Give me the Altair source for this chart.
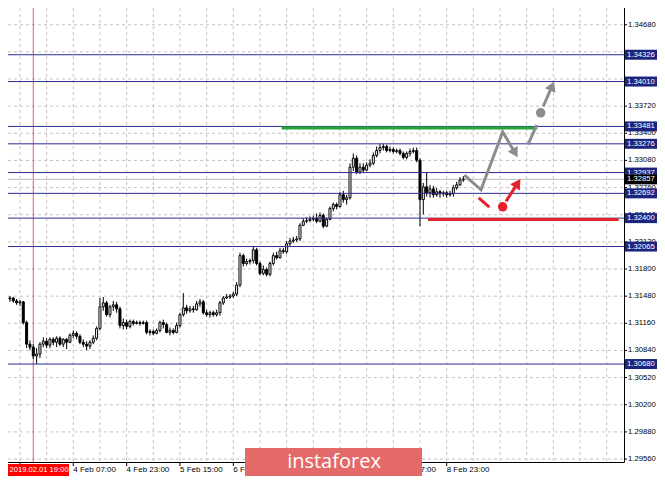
import altair as alt
import pandas as pd

# ---------------- data (H1 candles, bar index 2..139) ----------------
first_bar = 2
opens = [
    1.31471, 1.31447, 1.31459, 1.31424, 1.31401, 1.31413, 1.31169, 1.30914, 1.30879, 1.30775,
    1.30798, 1.30914, 1.30949, 1.30902, 1.30972, 1.30937, 1.30984, 1.30914, 1.30972, 1.30937,
    1.31018, 1.31042, 1.31007, 1.30937, 1.30914, 1.30891, 1.30937, 1.30984, 1.31100, 1.31355,
    1.31401, 1.31262, 1.31355, 1.31378, 1.31331, 1.31134, 1.31169, 1.31123, 1.31181, 1.31158,
    1.31169, 1.31158, 1.31169, 1.31053, 1.31065, 1.31042, 1.31076, 1.31169, 1.31146, 1.31053,
    1.31076, 1.31053, 1.31134, 1.31262, 1.31343, 1.31308, 1.31331, 1.31320, 1.31389, 1.31413,
    1.31285, 1.31262, 1.31285, 1.31262, 1.31285, 1.31401, 1.31459, 1.31471, 1.31482, 1.31505,
    1.31610, 1.31958, 1.31865, 1.31888, 1.31900, 1.32027, 1.31865, 1.31749, 1.31795, 1.31737,
    1.31865, 1.31958, 1.31934, 1.32016, 1.32004, 1.32097, 1.32131, 1.32143, 1.32155, 1.32316,
    1.32363, 1.32374, 1.32386, 1.32398, 1.32363, 1.32432, 1.32305, 1.32386, 1.32514, 1.32560,
    1.32537, 1.32676, 1.32618, 1.32641, 1.33000, 1.33105, 1.32942, 1.33000, 1.32966, 1.33024,
    1.33047, 1.33139, 1.33197, 1.33232, 1.33244, 1.33197, 1.33209, 1.33186, 1.33197, 1.33163,
    1.33116, 1.33163, 1.33186, 1.33197, 1.33081, 1.32618, 1.32769, 1.32699, 1.32745, 1.32676,
    1.32711, 1.32687, 1.32699, 1.32676, 1.32687, 1.32757, 1.32792, 1.32850,
]
highs = [
    1.31494, 1.31482, 1.31471, 1.31447, 1.31436, 1.31424, 1.31192, 1.30960, 1.30914, 1.30868,
    1.30937, 1.30995, 1.30984, 1.30995, 1.30995, 1.31007, 1.31007, 1.30984, 1.30984, 1.31042,
    1.31076, 1.31065, 1.31030, 1.30972, 1.30949, 1.30960, 1.31018, 1.31123, 1.31459, 1.31471,
    1.31424, 1.31378, 1.31424, 1.31413, 1.31355, 1.31216, 1.31204, 1.31204, 1.31204, 1.31192,
    1.31192, 1.31192, 1.31192, 1.31088, 1.31088, 1.31100, 1.31192, 1.31204, 1.31169, 1.31111,
    1.31100, 1.31169, 1.31285, 1.31517, 1.31378, 1.31366, 1.31366, 1.31424, 1.31447, 1.31436,
    1.31320, 1.31308, 1.31308, 1.31320, 1.31424, 1.31482, 1.31505, 1.31505, 1.31529, 1.31645,
    1.31992, 1.31981, 1.31923, 1.31923, 1.32062, 1.32050, 1.31888, 1.31842, 1.31818, 1.31888,
    1.31992, 1.32004, 1.32050, 1.32050, 1.32131, 1.32166, 1.32178, 1.32189, 1.32340, 1.32398,
    1.32409, 1.32421, 1.32432, 1.32456, 1.32467, 1.32456, 1.32409, 1.32537, 1.32583, 1.32583,
    1.32711, 1.32722, 1.32676, 1.33047, 1.33163, 1.33139, 1.33047, 1.33047, 1.33058, 1.33093,
    1.33174, 1.33244, 1.33278, 1.33278, 1.33267, 1.33244, 1.33232, 1.33220, 1.33220, 1.33186,
    1.33186, 1.33220, 1.33232, 1.33232, 1.33105, 1.32815, 1.32942, 1.32792, 1.32780, 1.32757,
    1.32734, 1.32722, 1.32722, 1.32722, 1.32792, 1.32827, 1.32884, 1.32896,
]
lows = [
    1.31424, 1.31413, 1.31401, 1.31378, 1.31366, 1.31146, 1.30868, 1.30844, 1.30740, 1.30682,
    1.30752, 1.30879, 1.30868, 1.30868, 1.30902, 1.30879, 1.30891, 1.30879, 1.30856, 1.30926,
    1.30984, 1.30972, 1.30914, 1.30879, 1.30844, 1.30856, 1.30914, 1.30960, 1.31076, 1.31308,
    1.31239, 1.31227, 1.31308, 1.31285, 1.31100, 1.31088, 1.31088, 1.31100, 1.31134, 1.31146,
    1.31134, 1.31146, 1.31030, 1.31018, 1.31018, 1.31030, 1.31053, 1.31100, 1.31042, 1.31018,
    1.31030, 1.31042, 1.31111, 1.31239, 1.31273, 1.31285, 1.31285, 1.31308, 1.31355, 1.31262,
    1.31239, 1.31227, 1.31239, 1.31239, 1.31250, 1.31378, 1.31447, 1.31447, 1.31459, 1.31482,
    1.31587, 1.31830, 1.31842, 1.31853, 1.31865, 1.31842, 1.31726, 1.31726, 1.31714, 1.31714,
    1.31842, 1.31911, 1.31923, 1.31981, 1.31981, 1.32074, 1.32108, 1.32120, 1.32131, 1.32305,
    1.32340, 1.32351, 1.32363, 1.32340, 1.32351, 1.32282, 1.32293, 1.32374, 1.32479, 1.32502,
    1.32525, 1.32583, 1.32560, 1.32618, 1.32954, 1.32919, 1.32919, 1.32942, 1.32954, 1.33000,
    1.33024, 1.33116, 1.33163, 1.33197, 1.33174, 1.33174, 1.33163, 1.33163, 1.33139, 1.33093,
    1.33093, 1.33128, 1.33163, 1.33058, 1.32305, 1.32444, 1.32653, 1.32641, 1.32641, 1.32653,
    1.32641, 1.32653, 1.32641, 1.32653, 1.32653, 1.32734, 1.32780, 1.32827,
]
closes = [
    1.31447, 1.31459, 1.31424, 1.31401, 1.31413, 1.31169, 1.30914, 1.30879, 1.30775, 1.30798,
    1.30914, 1.30949, 1.30902, 1.30972, 1.30937, 1.30984, 1.30914, 1.30972, 1.30937, 1.31018,
    1.31042, 1.31007, 1.30937, 1.30914, 1.30891, 1.30937, 1.30984, 1.31100, 1.31355, 1.31401,
    1.31262, 1.31355, 1.31378, 1.31331, 1.31134, 1.31169, 1.31123, 1.31181, 1.31158, 1.31169,
    1.31158, 1.31169, 1.31053, 1.31065, 1.31042, 1.31076, 1.31169, 1.31146, 1.31053, 1.31076,
    1.31053, 1.31134, 1.31262, 1.31343, 1.31308, 1.31331, 1.31320, 1.31389, 1.31413, 1.31285,
    1.31262, 1.31285, 1.31262, 1.31285, 1.31401, 1.31459, 1.31471, 1.31482, 1.31505, 1.31610,
    1.31958, 1.31865, 1.31888, 1.31900, 1.32027, 1.31865, 1.31749, 1.31795, 1.31737, 1.31865,
    1.31958, 1.31934, 1.32016, 1.32004, 1.32097, 1.32131, 1.32143, 1.32155, 1.32316, 1.32363,
    1.32374, 1.32386, 1.32398, 1.32363, 1.32432, 1.32305, 1.32386, 1.32514, 1.32560, 1.32537,
    1.32676, 1.32618, 1.32641, 1.33000, 1.33105, 1.32942, 1.33000, 1.32966, 1.33024, 1.33047,
    1.33139, 1.33197, 1.33232, 1.33244, 1.33197, 1.33209, 1.33186, 1.33197, 1.33163, 1.33116,
    1.33163, 1.33186, 1.33197, 1.33081, 1.32618, 1.32769, 1.32699, 1.32745, 1.32676, 1.32711,
    1.32687, 1.32699, 1.32676, 1.32687, 1.32757, 1.32792, 1.32850, 1.32861,
]
bars = list(range(first_bar, first_bar + len(closes)))

grid_bars = [6, 14, 22, 30, 38, 46, 54, 62, 70, 78, 86, 94, 102, 110, 118, 126,
             134, 142, 150, 158, 166, 174, 182]
price_ticks = [1.29560, 1.29880, 1.30200, 1.30520, 1.30840, 1.31160, 1.31480, 1.31800,
               1.32120, 1.32440, 1.32760, 1.33080, 1.33400, 1.33720, 1.34040, 1.34360, 1.34680]
# tick labels that are not hidden behind a level box
price_tick_labels = [1.29560, 1.29880, 1.30200, 1.30520, 1.30840, 1.31160, 1.31480, 1.31800,
                     1.32120, 1.32440, 1.32760, 1.33080, 1.33400, 1.33720, 1.34680]
level_prices = [1.34326, 1.34010, 1.33481, 1.33276, 1.32937, 1.32692, 1.32400, 1.32065, 1.30680]
bid_price = 1.32857

date_tick_bars = [6, 22, 38, 54, 70, 86, 102, 118, 134]
date_bars = [22, 38, 54, 70, 118, 134]
date_labels = ["4 Feb 07:00", "4 Feb 23:00", "5 Feb 15:00", "6 Feb 07:00",
               "8 Feb 07:00", "8 Feb 23:00"]
marker_bar = 10
marker_label = "2019.02.01 19:00"

green_bars = [84.5, 161.2]
green_price = 1.33462
red_bars = [128.4, 185.6]
red_price = 1.32385

# gray scenario path
gray_seg = ["a", "a", "a", "a", "b", "b", "c", "c"]
gray_bars = [139.3, 144.3, 150.8, 154.54, 158.4, 161.0, 163.0, 165.64]
gray_prices = [1.32908, 1.32734, 1.33417, 1.33167, 1.33267, 1.33498, 1.33719, 1.33958]
# red scenario path
red_seg = ["d", "d", "e", "e"]
red_path_bars = [143.6, 146.8, 151.8, 155.31]
red_path_prices = [1.32638, 1.32529, 1.32598, 1.32812]

dot_bars = [162.2, 150.8]
dot_prices = [1.33641, 1.32533]
dot_colors = ["#8c8c8c", "#e8202a"]

head_bars = [154.54, 165.64, 155.31]
head_prices = [1.33167, 1.33958, 1.32812]
head_angles = [150, 23, 33]
head_colors = ["#8c8c8c", "#8c8c8c", "#e8202a"]

# ---------------- layout ----------------
W, H = 616, 454
RIGHT, BOTTOM = 33, 14
xs = alt.Scale(domain=[2.418, 187.194], nice=False, zero=False, padding=0)
ys = alt.Scale(domain=[1.295252, 1.348770], nice=False, zero=False, padding=0)
FONT = "Liberation Sans"
GRID = "#c4c4c4"
LBL = 7.7


def X(field):
    return alt.X(field, type="quantitative", scale=xs, axis=None)


def Y(field):
    return alt.Y(field, type="quantitative", scale=ys, axis=None)


candles = pd.DataFrame({"bar": bars, "open": opens, "high": highs, "low": lows, "close": closes})
one = pd.DataFrame({"a": [0]})
ticks_df = pd.DataFrame({"price": price_ticks})
tick_lbl_df = pd.DataFrame({"price": price_tick_labels,
                            "label": [f"{p:.5f}" for p in price_tick_labels]})

# grid
vgrid = alt.Chart(pd.DataFrame({"bar": grid_bars})).mark_rule(
    color=GRID, strokeWidth=1, strokeDash=[3, 3]).encode(x=X("bar"), y=alt.value(0), y2=alt.value(H))
hgrid = alt.Chart(ticks_df).mark_rule(
    color=GRID, strokeWidth=1, strokeDash=[3, 3]).encode(y=Y("price"), x=alt.value(0), x2=alt.value(W))

# axes (drawn by hand)
right_axis = alt.Chart(one).mark_rule(color="black", strokeWidth=1).encode(
    x=alt.value(W + 0.5), y=alt.value(0), y2=alt.value(H + 0.5))
bottom_axis = alt.Chart(one).mark_rule(color="black", strokeWidth=1).encode(
    y=alt.value(H + 0.5), x=alt.value(0), x2=alt.value(W + 0.5))
ytick_marks = alt.Chart(ticks_df).mark_rule(color="black", strokeWidth=1).encode(
    y=Y("price"), x=alt.value(W), x2=alt.value(W + 3))
ytick_text = alt.Chart(tick_lbl_df).mark_text(
    align="left", baseline="middle", font=FONT, fontSize=LBL, color="black").encode(
    y=Y("price"), x=alt.value(W + 4), text="label:N")

wicks = alt.Chart(candles).mark_rule(color="black", strokeWidth=1, clip=True).encode(
    x=X("bar"), y=Y("low"), y2="high:Q")
bodies = alt.Chart(candles).transform_calculate(
    fillc="datum.close >= datum.open ? 'white' : 'black'"
).mark_bar(size=2, stroke="black", strokeWidth=1, clip=True).encode(
    x=X("bar"), y=Y("open"), y2="close:Q", color=alt.Color("fillc:N", scale=None))

vline = alt.Chart(pd.DataFrame({"bar": [marker_bar]})).mark_rule(color="#f25a5a", strokeWidth=1).encode(
    x=X("bar"), y=alt.value(0), y2=alt.value(H))

bid_line = alt.Chart(pd.DataFrame({"price": [bid_price]})).mark_rule(color="#bdbdbd", strokeWidth=1).encode(
    y=Y("price"), x=alt.value(0), x2=alt.value(W))

levels_df = pd.DataFrame({"price": level_prices, "label": [f"{p:.5f}" for p in level_prices]})
level_lines = alt.Chart(levels_df).mark_rule(color="#2c2c96", strokeWidth=1).encode(
    y=Y("price"), x=alt.value(0), x2=alt.value(W))

green = alt.Chart(pd.DataFrame({"b1": [green_bars[0]], "b2": [green_bars[1]], "price": [green_price]})).mark_rule(
    color="#22a636", strokeWidth=3).encode(x=X("b1"), x2="b2:Q", y=Y("price"))
redl = alt.Chart(pd.DataFrame({"b1": [red_bars[0]], "b2": [red_bars[1]], "price": [red_price]})).mark_rule(
    color="#e3232c", strokeWidth=3, clip=True).encode(x=X("b1"), x2="b2:Q", y=Y("price"))

gray_df = pd.DataFrame({"seg": gray_seg, "bar": gray_bars, "price": gray_prices,
                        "ord": list(range(len(gray_bars)))})
gray_path = alt.Chart(gray_df).mark_line(color="#8c8c8c", strokeWidth=3, strokeCap="butt").encode(
    x=X("bar"), y=Y("price"), detail="seg:N", order="ord:Q")
red_df = pd.DataFrame({"seg": red_seg, "bar": red_path_bars, "price": red_path_prices,
                       "ord": list(range(len(red_path_bars)))})
red_path = alt.Chart(red_df).mark_line(color="#e8202a", strokeWidth=3, strokeCap="butt").encode(
    x=X("bar"), y=Y("price"), detail="seg:N", order="ord:Q")

dots = alt.Chart(pd.DataFrame({"bar": dot_bars, "price": dot_prices, "col": dot_colors})).mark_point(
    shape="circle", filled=True, size=90, opacity=1).encode(
    x=X("bar"), y=Y("price"), color=alt.Color("col:N", scale=None))
heads = alt.Chart(pd.DataFrame({"bar": head_bars, "price": head_prices, "ang": head_angles,
                                "col": head_colors})).mark_point(
    shape="triangle-up", filled=True, size=130, opacity=1).encode(
    x=X("bar"), y=Y("price"), angle=alt.Angle("ang:Q", scale=None), color=alt.Color("col:N", scale=None))

# price boxes on the right axis
level_boxes = alt.Chart(levels_df).mark_rule(color="#1b2580", strokeWidth=10, strokeCap="butt").encode(
    y=Y("price"), x=alt.value(W + 1), x2=alt.value(W + RIGHT))
level_text = alt.Chart(levels_df).mark_text(align="left", baseline="middle", font=FONT, fontSize=LBL,
                                            color="white").encode(
    y=Y("price"), x=alt.value(W + 3), text="label:N")
bid_df = pd.DataFrame({"price": [bid_price], "label": [f"{bid_price:.5f}"]})
bid_box = alt.Chart(bid_df).mark_rule(color="black", strokeWidth=10, strokeCap="butt").encode(
    y=Y("price"), x=alt.value(W + 1), x2=alt.value(W + RIGHT))
bid_text = alt.Chart(bid_df).mark_text(align="left", baseline="middle", font=FONT, fontSize=LBL,
                                       color="white").encode(
    y=Y("price"), x=alt.value(W + 3), text="label:N")

# time axis labels
date_ticks = alt.Chart(pd.DataFrame({"bar": date_tick_bars})).mark_rule(color="black", strokeWidth=1).encode(
    x=X("bar"), y=alt.value(H), y2=alt.value(H + 4))
date_text = alt.Chart(pd.DataFrame({"bar": date_bars, "label": date_labels})).mark_text(
    align="left", baseline="middle", font=FONT, fontSize=8, color="black").encode(
    x=X("bar"), y=alt.value(H + 8), text="label:N")
marker_box = alt.Chart(one).mark_rect(color="#ff0000").encode(
    x=alt.value(0), x2=alt.value(61), y=alt.value(H + 2), y2=alt.value(H + 14))
marker_text = alt.Chart(pd.DataFrame({"label": [marker_label]})).mark_text(
    align="left", baseline="middle", font=FONT, fontSize=7.6, color="white").encode(
    x=alt.value(1.5), y=alt.value(H + 8), text="label:N")

# watermark
wm_box = alt.Chart(one).mark_rect(color="#e46a6a").encode(
    x=alt.value(237), x2=alt.value(414), y=alt.value(440), y2=alt.value(H + BOTTOM))
wm_text = alt.Chart(pd.DataFrame({"t": ["instaforex"]})).mark_text(
    align="center", baseline="middle", font="Open Sans", fontSize=20, color="white").encode(
    x=alt.value(326), y=alt.value(454), text="t:N")

chart = alt.layer(
    vgrid, hgrid, vline, bid_line, wicks, bodies, level_lines, green, redl,
    gray_path, red_path, dots, heads,
    right_axis, bottom_axis, ytick_marks, ytick_text,
    level_boxes, level_text, bid_box, bid_text, date_ticks, date_text, marker_box, marker_text,
    wm_box, wm_text,
).properties(
    width=W, height=H,
    padding={"left": 0, "top": 0, "right": RIGHT, "bottom": BOTTOM},
    autosize=alt.AutoSizeParams(type="none"),
    background="white",
).configure_view(stroke=None)

chart.save("out.html", embed_options={"renderer": "svg", "actions": False})
